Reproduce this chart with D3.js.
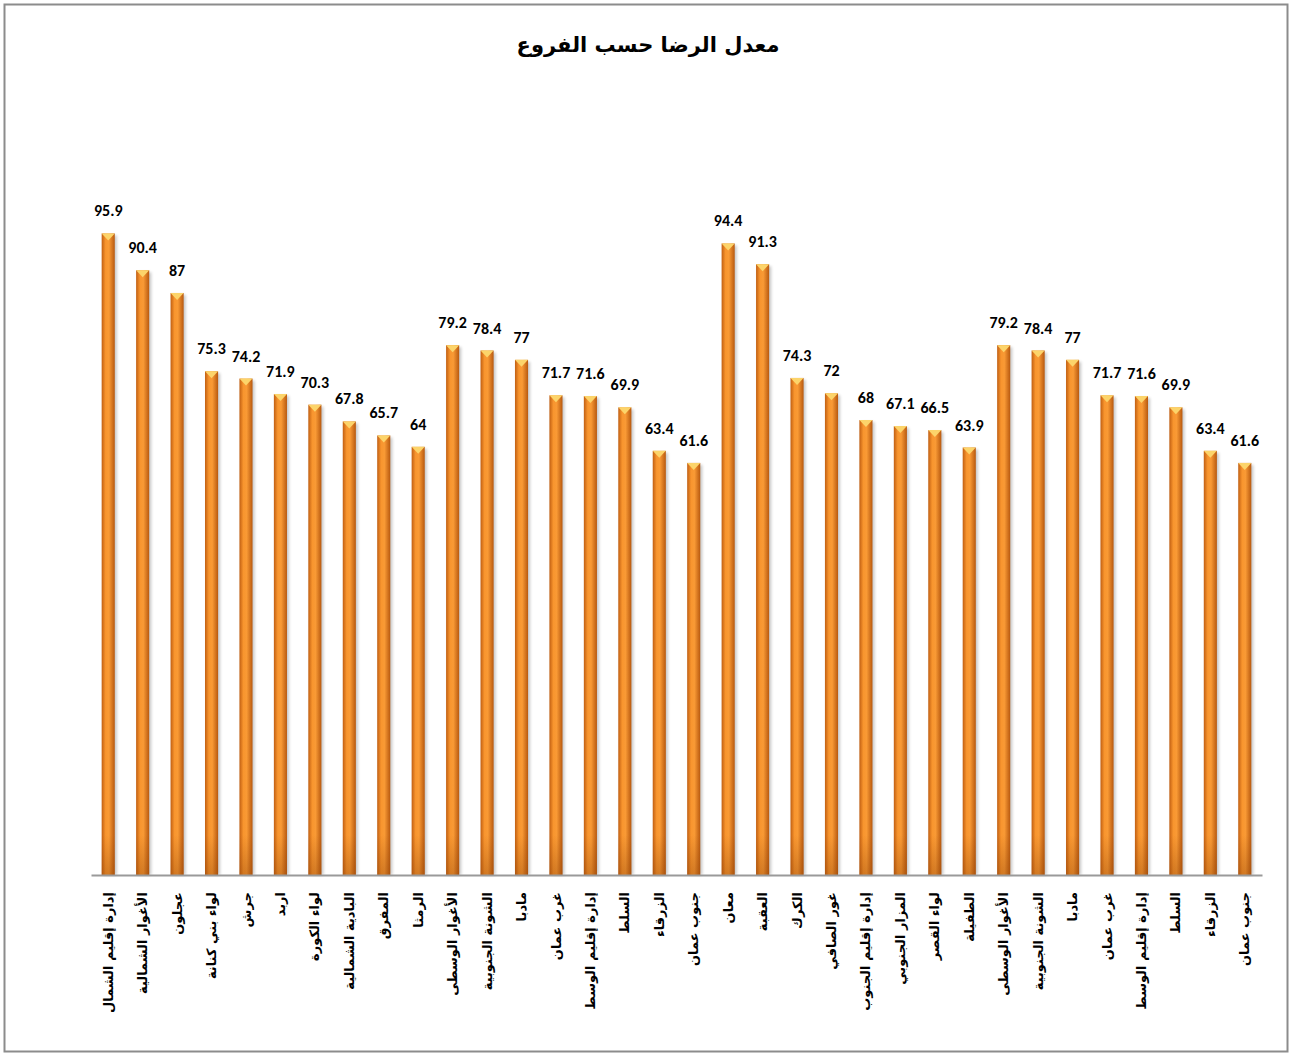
<!DOCTYPE html>
<html lang="ar">
<head>
  <meta charset="UTF-8" />
  <title>معدل الرضا حسب الفروع</title>
  <style>
    body { margin: 0; background: #fff; }
  </style>
</head>
<body>
  <div id="chart"></div>
  <script src="https://d3js.org/d3.v7.min.js"></script>
  <script>
    // categories (left to right) and values
    const branches = [
      "إدارة إقليم الشمال", "الأغوار الشمالية", "عجلون", "لواء بني كنانة", "جرش",
      "اربد", "لواء الكورة", "البادية الشمالية", "المفرق", "الرمثا",
      "الأغوار الوسطى", "الشونة الجنوبية", "مادبا", "غرب عمان", "إدارة إقليم الوسط",
      "السلط", "الزرقاء", "جنوب عمان", "معان", "العقبة",
      "الكرك", "غور الصافي", "إدارة إقليم الجنوب", "المزار الجنوبي", "لواء القصر",
      "الطفيلة", "الأغوار الوسطى", "الشونة الجنوبية", "مادبا", "غرب عمان",
      "إدارة إقليم الوسط", "السلط", "الزرقاء", "جنوب عمان"
    ];
    const satisfaction = [
      95.9, 90.4, 87, 75.3, 74.2, 71.9, 70.3, 67.8, 65.7, 64,
      79.2, 78.4, 77, 71.7, 71.6, 69.9, 63.4, 61.6, 94.4, 91.3,
      74.3, 72, 68, 67.1, 66.5, 63.9, 79.2, 78.4, 77, 71.7,
      71.6, 69.9, 63.4, 61.6
    ];
    const yDomain = [0, 100];

    const width = 1292, height = 1055;
    const plotLeft = 91, plotRight = 1262, plotBase = 875, plotTop = 206;

    const svg = d3.select("#chart").append("svg")
      .attr("width", width)
      .attr("height", height);

    // outer frame
    svg.append("rect")
      .attr("x", 4.5).attr("y", 4.5)
      .attr("width", 1283).attr("height", 1047)
      .attr("fill", "#fff")
      .attr("stroke", "#8c8c8c")
      .attr("stroke-width", 2);

    svg.append("text")
      .attr("x", 648).attr("y", 52)
      .attr("text-anchor", "middle")
      .style("font-family", "'DejaVu Sans', Arial, sans-serif")
      .style("font-weight", "bold")
      .style("font-size", "21px")
      .text("معدل الرضا حسب الفروع");

    const idx = d3.range(branches.length);
    const x = d3.scaleBand().domain(idx).range([plotLeft, plotRight]).paddingInner(0.62).paddingOuter(0.31);
    const y = d3.scaleLinear().domain(yDomain).range([plotBase, plotTop]);

    const defs = svg.append("defs");
    const grad = defs.append("linearGradient").attr("id", "barGrad")
      .attr("x1", "0%").attr("x2", "100%").attr("y1", "0%").attr("y2", "0%");
    grad.append("stop").attr("offset", "0%").attr("stop-color", "#c15f12");
    grad.append("stop").attr("offset", "30%").attr("stop-color", "#f8952e");
    grad.append("stop").attr("offset", "55%").attr("stop-color", "#f99a35");
    grad.append("stop").attr("offset", "100%").attr("stop-color", "#b8590f");

    const shade = defs.append("linearGradient").attr("id", "baseShade")
      .attr("x1", "0").attr("x2", "0").attr("y1", "0").attr("y2", "1");
    shade.append("stop").attr("offset", "0%").attr("stop-color", "#8a3f05").attr("stop-opacity", 0);
    shade.append("stop").attr("offset", "100%").attr("stop-color", "#8a3f05").attr("stop-opacity", 0.35);

    const shadow = defs.append("filter").attr("id", "soft")
      .attr("x", "-50%").attr("width", "200%");
    shadow.append("feGaussianBlur").attr("stdDeviation", 1.5);

    const bars = svg.append("g");
    const bw = x.bandwidth();

    // soft shadow behind bars
    bars.selectAll(".shadow").data(idx).enter().append("rect")
      .attr("x", i => x(i) + 2)
      .attr("y", i => y(satisfaction[i]) + 2)
      .attr("width", bw)
      .attr("height", i => plotBase - y(satisfaction[i]) - 2)
      .attr("fill", "#000")
      .attr("opacity", 0.22)
      .attr("filter", "url(#soft)");

    bars.selectAll(".bar").data(idx).enter().append("rect")
      .attr("x", i => x(i))
      .attr("y", i => y(satisfaction[i]))
      .attr("width", bw)
      .attr("height", i => plotBase - y(satisfaction[i]))
      .attr("fill", "url(#barGrad)");

    bars.selectAll(".foot").data(idx).enter().append("rect")
      .attr("x", i => x(i))
      .attr("y", plotBase - 40)
      .attr("width", bw)
      .attr("height", 40)
      .attr("fill", "url(#baseShade)");

    // bevel cap on top
    bars.selectAll(".cap").data(idx).enter().append("path")
      .attr("d", i => {
        const x0 = x(i), yt = y(satisfaction[i]);
        return "M" + x0 + "," + yt + "L" + (x0 + bw) + "," + yt + "L" + (x0 + bw / 2) + "," + (yt + 7) + "Z";
      })
      .attr("fill", "#fcd46a");

    // value labels
    svg.append("g").selectAll("text").data(idx).enter().append("text")
      .attr("x", i => x(i) + bw / 2)
      .attr("y", i => y(satisfaction[i]) - 17)
      .attr("text-anchor", "middle")
      .style("font-family", "Carlito, 'Liberation Sans', Arial, sans-serif")
      .style("font-weight", "bold")
      .style("font-size", "16px")
      .text(i => satisfaction[i]);

    // x axis
    const axis = svg.append("g").attr("transform", "translate(0," + plotBase + ")")
      .call(d3.axisBottom(x).tickSize(0).tickFormat(i => branches[i]));
    axis.select(".domain").attr("stroke", "#9a9a9a").attr("stroke-width", 2);
    axis.selectAll("text")
      .attr("transform", "rotate(-90)")
      .attr("x", -17)
      .attr("y", 0)
      .attr("dy", "0.35em")
      .attr("text-anchor", "end")
      .style("font-family", "'DejaVu Sans', sans-serif")
      .style("font-weight", "bold")
      .style("font-size", "13px")
      .style("fill", "#000");
  </script>
</body>
</html>
